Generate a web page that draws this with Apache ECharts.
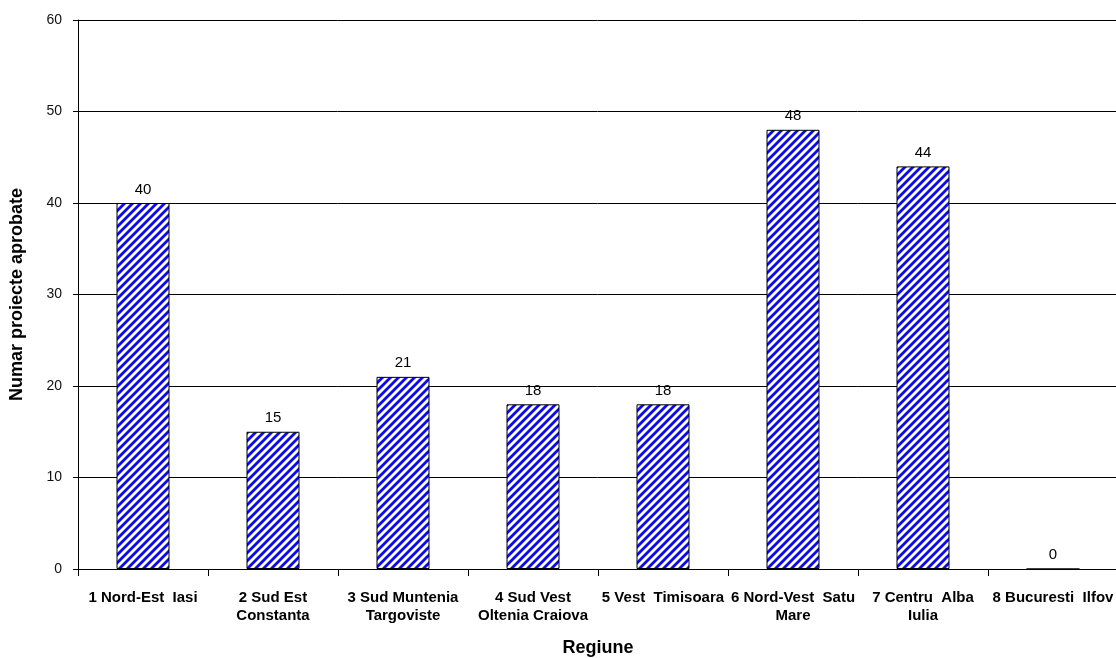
<!DOCTYPE html>
<html><head><meta charset="utf-8">
<script src="https://cdn.jsdelivr.net/npm/echarts@6/dist/echarts.min.js"></script>
<style>html,body{margin:0;padding:0;background:#fff}#c{width:1116px;height:658px}</style>
</head><body><div id="c"></div>
<script>
const categories = ["1 Nord-Est  Iasi", "2 Sud Est\nConstanta", "3 Sud Muntenia\nTargoviste", "4 Sud Vest\nOltenia Craiova", "5 Vest  Timisoara", "6 Nord-Vest  Satu\nMare", "7 Centru  Alba\nIulia", "8 Bucuresti  Ilfov"];
const values = [40, 15, 21, 18, 18, 48, 44, 0];
const yTicks = { min: 0, max: 60, interval: 10 };

function hatch() {
  const s = 8, c = document.createElement('canvas');
  c.width = s; c.height = s;
  const g = c.getContext('2d');
  g.fillStyle = '#fff'; g.fillRect(0, 0, s, s);
  g.strokeStyle = '#0a0af0'; g.lineWidth = 2.8;
  g.beginPath();
  g.moveTo(-2, s + 2); g.lineTo(s + 2, -2);
  g.moveTo(-2, 2); g.lineTo(2, -2);
  g.moveTo(s - 2, s + 2); g.lineTo(s + 2, s - 2);
  g.stroke();
  return c;
}

const chart = echarts.init(document.getElementById('c'), null, { renderer: 'canvas' });
const font = "'Liberation Sans', Arial, sans-serif";
chart.setOption({
  animation: false,
  grid: { left: 78, right: -2, top: 20, bottom: 89, outerBoundsMode: 'none', containLabel: false },
  xAxis: {
    type: 'category', data: categories,
    name: 'Regiune', nameLocation: 'middle', nameGap: 70,
    nameTextStyle: { fontFamily: font, fontWeight: 'bold', fontSize: 18, color: '#000' },
    axisLine: { lineStyle: { color: '#000', width: 1 } },
    axisTick: { show: true, length: 7, lineStyle: { color: '#000' }, alignWithLabel: false },
    axisLabel: { interval: 0, fontFamily: font, fontWeight: 'bold', fontSize: 15, color: '#000', margin: 20, lineHeight: 18 }
  },
  yAxis: {
    type: 'value', min: yTicks.min, max: yTicks.max, interval: yTicks.interval,
    name: 'Numar proiecte aprobate', nameLocation: 'middle', nameGap: 52, nameRotate: 90,
    nameTextStyle: { fontFamily: font, fontWeight: 'bold', fontSize: 18, color: '#000' },
    axisLine: { show: true, lineStyle: { color: '#000', width: 1 } },
    axisTick: { show: true, length: 5, lineStyle: { color: '#000' } },
    axisLabel: { fontFamily: font, fontSize: 14, color: '#111', margin: 16 },
    splitLine: { lineStyle: { color: '#000', width: 1 } }
  },
  series: [{
    type: 'bar', data: values, barWidth: 53,
    itemStyle: { color: { image: hatch(), repeat: 'repeat' }, borderColor: '#000', borderWidth: 1 },
    label: { show: true, position: 'top', distance: 6, fontFamily: font, fontSize: 15, color: '#000' }
  }]
});
</script></body></html>
